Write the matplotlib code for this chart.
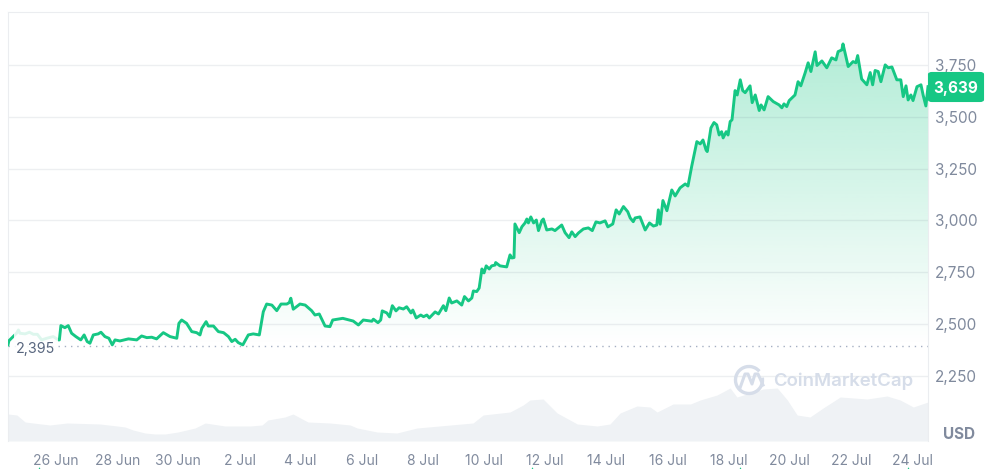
import matplotlib
matplotlib.use("Agg")
import matplotlib.pyplot as plt
import numpy as np
from matplotlib.colors import to_rgb
from matplotlib.patches import Arc, FancyBboxPatch, Polygon, Rectangle

plt.rcParams["font.family"] = ["Inter", "DejaVu Sans"]

W, H = 985, 469
GREEN = "#16C784"
GREY = "#808A9D"

# days counted from 26 Jun
days = [-1.57, -1.54, -1.29, -1.23, -1.18, -1.01, -0.87, -0.74, -0.61, -0.47, -0.30, -0.09, 0.08, 0.11,
        0.16, 0.29, 0.40, 0.51, 0.65, 0.81, 0.92, 1.02, 1.11, 1.22, 1.38, 1.47, 1.60, 1.73, 1.84, 1.93,
        2.09, 2.37, 2.64, 2.80, 2.97, 3.13, 3.29, 3.51, 3.73, 3.95, 4.02, 4.11, 4.27, 4.44, 4.60, 4.71,
        4.77, 4.91, 4.98, 5.15, 5.31, 5.48, 5.64, 5.75, 5.86, 5.96, 6.11, 6.29, 6.45, 6.65, 6.78, 6.89,
        7.06, 7.22, 7.36, 7.55, 7.63, 7.68, 7.76, 7.98, 8.15, 8.36, 8.47, 8.61, 8.80, 8.96, 9.05, 9.38,
        9.72, 9.89, 10.05, 10.33, 10.38, 10.53, 10.62, 10.67, 10.82, 10.91, 11.00, 11.12, 11.22, 11.36,
        11.47, 11.61, 11.67, 11.78, 11.93, 12.02, 12.13, 12.21, 12.40, 12.51, 12.67, 12.75, 12.86, 12.94,
        13.11, 13.27, 13.36, 13.49, 13.60, 13.65, 13.76, 13.84, 13.93, 14.00, 14.07, 14.17, 14.25, 14.36,
        14.38, 14.52, 14.74, 14.85, 14.91, 14.98, 15.01, 15.15, 15.24, 15.34, 15.40, 15.45, 15.53, 15.62,
        15.71, 15.78, 15.89, 15.94, 16.05, 16.22, 16.32, 16.54, 16.65, 16.78, 16.87, 16.98, 17.09, 17.25,
        17.41, 17.54, 17.66, 17.79, 17.96, 18.05, 18.21, 18.32, 18.42, 18.56, 18.70, 18.78, 18.88, 18.94,
        19.10, 19.27, 19.41, 19.54, 19.65, 19.70, 19.76, 19.85, 19.98, 20.14, 20.25, 20.41, 20.58, 20.67,
        20.79, 20.96, 21.07, 21.16, 21.26, 21.30, 21.42, 21.52, 21.61, 21.69, 21.77, 21.82, 21.92, 21.98,
        22.05, 22.11, 22.21, 22.28, 22.38, 22.46, 22.54, 22.70, 22.77, 22.87, 23.00, 23.06, 23.16, 23.29,
        23.46, 23.65, 23.74, 23.81, 23.90, 23.98, 24.17, 24.27, 24.36, 24.50, 24.60, 24.69, 24.83, 24.89,
        25.05, 25.21, 25.37, 25.51, 25.58, 25.70, 25.74, 25.91, 26.07, 26.16, 26.22, 26.35, 26.52, 26.63,
        26.71, 26.79, 26.89, 26.98, 27.12, 27.22, 27.34, 27.50, 27.63, 27.71, 27.80, 27.87, 27.96, 28.03,
        28.16, 28.29, 28.36, 28.45, 28.52]
prices = [2400, 2420, 2456, 2472, 2456, 2453, 2461, 2451, 2451, 2424, 2432, 2440, 2424, 2424,
          2493, 2483, 2493, 2456, 2440, 2424, 2448, 2416, 2408, 2448, 2453, 2461, 2440, 2432, 2400, 2424,
          2419, 2429, 2424, 2443, 2435, 2437, 2429, 2459, 2440, 2432, 2504, 2520, 2504, 2464, 2459, 2448,
          2480, 2512, 2491, 2491, 2464, 2459, 2440, 2416, 2427, 2411, 2400, 2448, 2453, 2448, 2560, 2597,
          2592, 2565, 2597, 2597, 2604, 2625, 2572, 2597, 2592, 2565, 2544, 2549, 2491, 2488, 2520, 2528,
          2515, 2496, 2520, 2514, 2524, 2507, 2520, 2564, 2554, 2535, 2589, 2564, 2579, 2573,
          2584, 2554, 2568, 2530, 2544, 2536, 2544, 2530, 2559, 2549, 2589, 2565, 2626, 2602,
          2612, 2592, 2633, 2612, 2626, 2660, 2657, 2674, 2766, 2747, 2781, 2766, 2781, 2785,
          2797, 2781, 2776, 2834, 2819, 2821, 2983, 2941, 2970, 2988, 3007, 2988, 3017, 2988,
          3002, 2951, 2999, 3007, 2954, 2959, 2951, 2978, 2941, 2917, 2945, 2922, 2940, 2959,
          2964, 2951, 2993, 2988, 2998, 2969, 2983, 3051, 3031, 3067, 3042, 3012, 2994, 3012,
          3017, 2954, 2988, 2973, 2978, 3051, 2982, 3096, 3047, 3147, 3118, 3157, 3176, 3166,
          3260, 3380, 3369, 3388, 3340, 3332, 3446, 3472, 3461, 3412, 3428, 3398, 3428, 3412,
          3477, 3485, 3626, 3605, 3678, 3626, 3616, 3649, 3568, 3605, 3530, 3557, 3533, 3597,
          3573, 3557, 3543, 3562, 3549, 3578, 3605, 3669, 3649, 3711, 3760, 3718, 3813, 3747,
          3769, 3736, 3784, 3774, 3814, 3822, 3851, 3742, 3766, 3760, 3795, 3682, 3654, 3713,
          3654, 3723, 3718, 3669, 3750, 3736, 3740, 3678, 3678, 3597, 3649, 3581, 3605, 3578,
          3645, 3654, 3605, 3552, 3645]

volume_days = [-1.57, -1.28, -1.01, -0.75, -0.20, 0.36, 1.44, 2.0, 2.26, 2.52, 2.91, 3.24, 3.57, 3.99,
               4.55, 4.88, 5.53, 6.35, 6.74, 6.93, 7.49, 7.75, 8.24, 8.96, 9.62, 9.85, 10.5, 11.15, 11.81,
               13.64, 13.97, 14.85, 15.28, 15.5, 15.93, 16.39, 17.05, 17.7, 18.12, 18.45, 19.0, 19.43,
               19.66, 20.18, 20.75, 21.07, 21.62, 22.05, 22.27, 23.13, 23.59, 23.92, 24.24, 24.66, 25.09,
               25.65, 26.53, 27.18, 27.61, 28.04, 28.52]
volume = [27, 26, 19, 18, 16, 18, 17, 15, 14, 11, 8, 7, 7, 9, 13, 18, 15, 15, 16, 21, 24, 27, 19, 18, 16,
          13, 9, 8, 13, 18, 26, 29, 36, 41, 42, 28, 17, 15, 17, 28, 35, 34, 29, 37, 37, 41, 46, 53, 44,
          52, 53, 41, 26, 24, 33, 44, 42, 45, 41, 34, 39]

x_ticks = list(range(0, 29, 2))
x_labels = ["26 Jun", "28 Jun", "30 Jun", "2 Jul", "4 Jul", "6 Jul", "8 Jul", "10 Jul", "12 Jul",
            "14 Jul", "16 Jul", "18 Jul", "20 Jul", "22 Jul", "24 Jul"]
y_ticks = [2250, 2500, 2750, 3000, 3250, 3500, 3750]
base_price = 2395
last_price = 3639
event_days = [-0.56, 15.57, 22.37, 27.87]


def fx(x):
    return x / W


def fy(y):
    return 1 - y / H


fig = plt.figure(figsize=(W / 100, H / 100), dpi=100, facecolor="white")
rect = [fx(8), fy(441), fx(920), 429 / H]

vol_ax = fig.add_axes(rect)
vol_ax.set_xlim(-1.57, 28.52)
vol_ax.set_ylim(0, 429)
vol_ax.fill_between(volume_days, volume, 0, color="#EFF2F5", lw=0)
vol_ax.axis("off")

ax = fig.add_axes(rect)
ax.patch.set_alpha(0)
ax.set_xlim(-1.57, 28.52)
ax.set_ylim(1936.6, 4005)

# gradient under the line, clipped to the area down to the start price
top_price = 3900
grad = np.zeros((256, 1, 4))
grad[..., :3] = to_rgb(GREEN)
grad[:, 0, 3] = np.linspace(0.34, 0, 256)
im = ax.imshow(grad, extent=[-1.57, 28.52, base_price, top_price], aspect="auto", zorder=1)
area = np.maximum(prices, base_price)
verts = [(days[0], base_price)] + list(zip(days, area)) + [(days[-1], base_price)]
clip = Polygon(verts, transform=ax.transData, fc="none", ec="none")
ax.add_patch(clip)
im.set_clip_path(clip)
ax.set_xlim(-1.57, 28.52)
ax.set_ylim(1936.6, 4005)

for level in y_ticks:
    ax.axhline(level, color="#58667E", alpha=0.1, lw=1, zorder=2)

ax.axhline(base_price, color="#A6B0C3", lw=1, ls=(0, (1, 3.5)), zorder=2)
ax.plot(days, prices, color=GREEN, lw=2.1, solid_joinstyle="round", zorder=3)

ax.yaxis.tick_right()
ax.set_yticks(y_ticks)
ax.set_yticklabels([f"{v:,}" for v in y_ticks])
ax.set_xticks(x_ticks)
ax.set_xticklabels(x_labels)
ax.tick_params(axis="y", length=0, pad=5, labelsize=11, labelcolor=GREY)
ax.tick_params(axis="x", length=0, pad=9, labelsize=10, labelcolor=GREY)
for side in ["left", "right", "top"]:
    ax.spines[side].set_color("#EBEDF0")
ax.spines["bottom"].set_visible(False)

# veil behind the start price label
fig.add_artist(Rectangle((fx(14), fy(360)), 44 / W, 32 / H, transform=fig.transFigure,
                         fc="white", alpha=0.86, ec="none", zorder=5))
fig.text(fx(16), fy(349), f"{base_price:,}", color="#58667E", fontsize=10.3, va="center", ha="left", zorder=6)

# last price tag
fig.add_artist(FancyBboxPatch((fx(929), fy(101)), 54 / W, 28 / H, boxstyle="round,pad=0,rounding_size=0.003",
                              transform=fig.transFigure, fc=GREEN, ec=GREEN, lw=1.5, zorder=5))
fig.text(fx(955.5), fy(88), f"{last_price:,}", color="white", fontsize=11, fontweight="bold",
         va="center", ha="center", zorder=6)

fig.text(fx(943), fy(434), "USD", color=GREY, fontsize=11, fontweight="bold", va="center", ha="left")

# watermark
WM = "#D6DDE9"
fig.text(fx(773), fy(381), "CoinMarketCap", color=WM, fontsize=13.4, fontweight="semibold", va="center", ha="left")
ov = fig.add_axes([0, 0, 1, 1], zorder=4)
ov.set_xlim(0, W)
ov.set_ylim(H, 0)
ov.axis("off")
ov.patch.set_alpha(0)
ov.add_patch(Arc((749, 380), 27, 27, theta1=-10, theta2=320, color=WM, lw=2.4))
ov.plot([740, 745, 748, 752, 755, 758, 763], [388, 374, 374, 384, 374, 374, 385], color=WM, lw=2.2,
        solid_joinstyle="round")

# event markers cut by the bottom edge
ev_x = [ax.transData.transform((d, 0))[0] for d in event_days]
ov.scatter(ev_x, [470] * len(ev_x), s=22, marker="^", color=GREEN, lw=0, clip_on=True)

fig.savefig("out.png", dpi=100)
